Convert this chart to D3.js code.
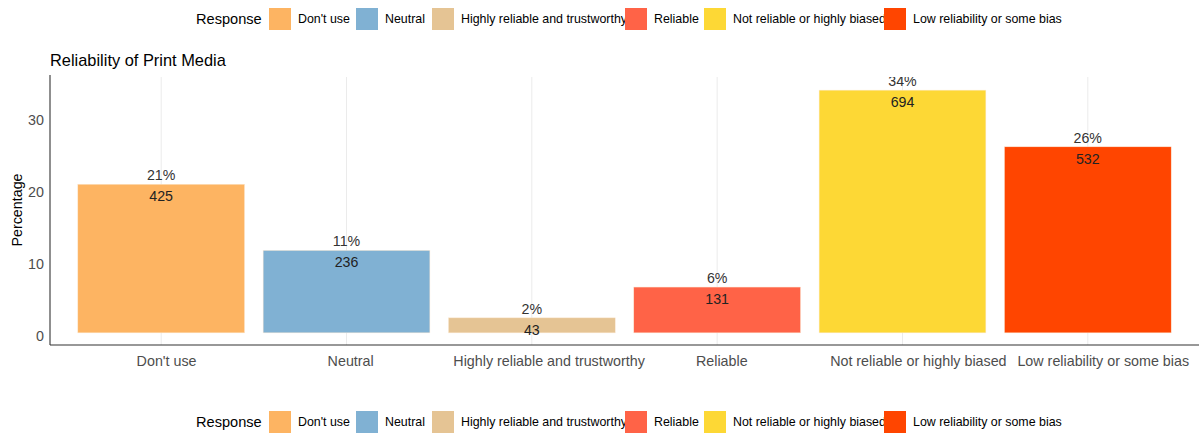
<!DOCTYPE html>
<html><head><meta charset="utf-8">
<script src="https://cdn.jsdelivr.net/npm/d3@7"></script>
<style>body{margin:0;background:#fff}svg{font-family:"Liberation Sans",Arial,sans-serif}</style>
</head><body><svg id="c" width="1202" height="435"></svg>
<script>
const categories = ["Don't use","Neutral","Highly reliable and trustworthy","Reliable","Not reliable or highly biased","Low reliability or some bias"];
const counts = [425,236,43,131,694,532];
const colors = ["#FDB462","#80B1D3","#E5C494","#FF6347","#FDD835","#FF4500"];
const yTicks = [0,10,20,30];
const total = d3.sum(counts);
const pct = counts.map(c => c/total*100);

const svg = d3.select("#c");
const L = 50, R = 1199, T = 75, B = 345;
const maxP = d3.max(pct);
const y = d3.scaleLinear().domain([-maxP*0.05, maxP*1.05]).range([B, T+3]);
const step = (R-L)/(categories.length - 1 + 1.2);
const xc = d3.scalePoint().domain(categories).range([L+0.6*step, R-0.6*step]);
const bw = step*0.9;

svg.append("defs").append("clipPath").attr("id","pc").append("rect")
  .attr("x",L).attr("y",T+2).attr("width",R-L).attr("height",B-T-2);

const panel = svg.append("g").attr("clip-path","url(#pc)");
panel.selectAll("line.g").data(categories).join("line")
  .attr("x1",d=>xc(d)).attr("x2",d=>xc(d)).attr("y1",T).attr("y2",B)
  .attr("stroke","#ebebeb").attr("stroke-width",1);
panel.selectAll("rect.b").data(categories).join("rect")
  .attr("x",d=>xc(d)-bw/2).attr("width",bw)
  .attr("y",(d,i)=>y(pct[i])).attr("height",(d,i)=>y(0)-y(pct[i]))
  .attr("fill",(d,i)=>colors[i]).attr("stroke","#fbe9d6").attr("stroke-width",0.5);
panel.selectAll("text.p").data(categories).join("text")
  .attr("x",d=>xc(d)).attr("y",(d,i)=>y(pct[i])-4)
  .attr("text-anchor","middle").attr("font-size",14.2).attr("fill","#333")
  .text((d,i)=>Math.round(pct[i])+"%");
panel.selectAll("text.n").data(categories).join("text")
  .attr("x",d=>xc(d)).attr("y",(d,i)=>y(pct[i])+17)
  .attr("text-anchor","middle").attr("font-size",14.2).attr("fill","#222")
  .text((d,i)=>counts[i]);

// axes
svg.append("line").attr("x1",L).attr("x2",L).attr("y1",T).attr("y2",B).attr("stroke","#333").attr("stroke-width",1.1);
svg.append("line").attr("x1",L).attr("x2",R).attr("y1",B).attr("y2",B).attr("stroke","#333").attr("stroke-width",1.1);
svg.selectAll("text.yt").data(yTicks).join("text")
  .attr("x",L-6).attr("y",d=>y(d)+8).attr("text-anchor","end")
  .attr("font-size",14.3).attr("fill","#4d4d4d").text(d=>d);
svg.selectAll("text.xt").data(categories).join("text")
  .attr("y",B+21).attr("text-anchor","start")
  .attr("font-size",14.3).attr("fill","#4d4d4d").text(d=>d)
  .each(function(d){
    const w = this.getComputedTextLength();
    d3.select(this).attr("x", xc(d) - 0.41*w);
  });
svg.append("text").attr("transform",`translate(22,${(T+B)/2}) rotate(-90)`)
  .attr("text-anchor","middle").attr("font-size",14.3).attr("fill","#000").text("Percentage");
svg.append("text").attr("x",L).attr("y",66).attr("font-size",16.4).attr("fill","#000").text("Reliability of Print Media");

// legends
const legendKeyX = [269,356,432,625,704,884];
function legend(cy){
  const g = svg.append("g");
  g.append("text").attr("x",196).attr("y",cy+5).attr("font-size",14.6).attr("fill","#000").text("Response");
  categories.forEach((c,i)=>{
    g.append("rect").attr("x",legendKeyX[i]).attr("y",cy-11).attr("width",22).attr("height",22).attr("fill",colors[i]);
    g.append("text").attr("x",legendKeyX[i]+29).attr("y",cy+4).attr("font-size",12.4).attr("fill","#000").text(c);
  });
}
legend(19);
legend(422);
</script></body></html>
